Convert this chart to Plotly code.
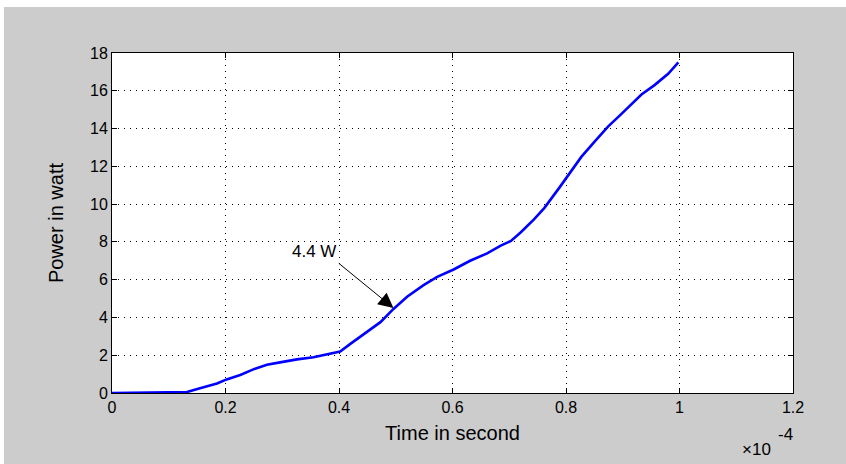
import plotly.graph_objects as go

# Time in units of 1e-4 s, power in watt
time_e4 = [0, 0.05, 0.10, 0.132, 0.155, 0.185, 0.202, 0.226, 0.249, 0.273, 0.296,
           0.326, 0.355, 0.384, 0.402, 0.42, 0.443, 0.473, 0.496, 0.52, 0.549,
           0.573, 0.602, 0.631, 0.661, 0.685, 0.703, 0.72, 0.744, 0.762, 0.789,
           0.803, 0.827, 0.85, 0.874, 0.895, 0.912, 0.933, 0.956, 0.98, 0.998]
power_w = [0, 0.03, 0.04, 0.05, 0.25, 0.5, 0.72, 0.95, 1.25, 1.5, 1.62,
           1.78, 1.89, 2.06, 2.19, 2.6, 3.1, 3.75, 4.45, 5.1, 5.71,
           6.15, 6.54, 7.0, 7.39, 7.8, 8.05, 8.5, 9.2, 9.8, 10.9,
           11.5, 12.5, 13.3, 14.1, 14.7, 15.2, 15.8, 16.3, 16.9, 17.5]

x_ticks = [0, 0.2, 0.4, 0.6, 0.8, 1, 1.2]
x_ticklabels = ["0", "0.2", "0.4", "0.6", "0.8", "1", "1.2"]
y_ticks = [0, 2, 4, 6, 8, 10, 12, 14, 16, 18]

note_text = "4.4 W"
note_text_pos = (0.356, 7.5)
note_tail = (0.397, 6.93)
note_tip = (0.496, 4.5)

font = "Liberation Sans, Arial, sans-serif"

fig = go.Figure()
fig.add_trace(go.Scatter(x=time_e4, y=power_w, mode="lines",
                         line=dict(color="#0000ff", width=2.6), showlegend=False))

axis_common = dict(showline=True, linecolor="black", linewidth=1, mirror="ticks",
                   ticks="inside", ticklen=5, tickcolor="black", automargin=False,
                   showgrid=True, gridcolor="black", gridwidth=1, griddash="1px,5px",
                   zeroline=False, tickfont=dict(family=font, size=16, color="black"))

fig.update_xaxes(range=[0, 1.2], tickvals=x_ticks, ticktext=x_ticklabels,
                 title=dict(text="Time in second", font=dict(family=font, size=20, color="black"),
                            standoff=10),
                 **axis_common)
fig.update_yaxes(range=[0, 18], tickvals=y_ticks,
                 title=dict(text="Power in watt", font=dict(family=font, size=20, color="black"),
                            standoff=21),
                 **axis_common)

# arrow
fig.add_annotation(x=note_tip[0], y=note_tip[1], ax=note_tail[0], ay=note_tail[1],
                   axref="x", ayref="y", xref="x", yref="y", text="",
                   showarrow=True, arrowhead=2, arrowsize=3, arrowwidth=1, arrowcolor="black")
# label
fig.add_annotation(x=note_text_pos[0], y=note_text_pos[1], xref="x", yref="y",
                   text=note_text, showarrow=False,
                   font=dict(family=font, size=17, color="black"))

# exponent label
fig.add_annotation(x=(756 - 112) / 681, y=(393 - 449) / 340, xref="paper", yref="paper",
                   xanchor="center", yanchor="middle",
                   text="×10", showarrow=False, font=dict(family=font, size=17, color="black"))
fig.add_annotation(x=(785 - 112) / 681, y=(393 - 434) / 340, xref="paper", yref="paper",
                   xanchor="center", yanchor="middle",
                   text="-4", showarrow=False, font=dict(family=font, size=17, color="black"))

# white strips (top and left) outside the gray figure panel
fig.add_shape(type="rect", xref="paper", yref="paper",
              x0=-112 / 681, x1=(846 - 112) / 681, y0=(393 - 7) / 340, y1=(393 + 2) / 340 + 0.2,
              fillcolor="white", line_width=0, layer="above")
fig.add_shape(type="rect", xref="paper", yref="paper",
              x0=-112 / 681 - 0.05, x1=(4 - 112) / 681, y0=-71 / 340 - 0.1, y1=(393 + 2) / 340 + 0.2,
              fillcolor="white", line_width=0, layer="above")

fig.update_layout(width=846, height=464,
                  margin=dict(l=112, r=53, t=53, b=71),
                  paper_bgcolor="#cccccc", plot_bgcolor="white",
                  font=dict(family=font, color="black"))

fig.write_html("out.html", config={"displayModeBar": False},
               post_script="document.body.style.margin='0';")
